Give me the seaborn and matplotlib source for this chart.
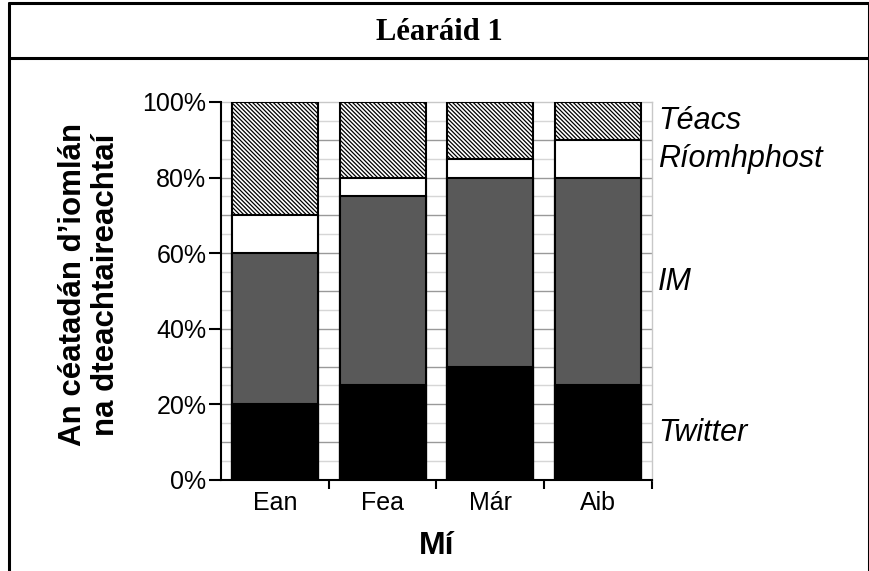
import numpy as np
import pandas as pd
import matplotlib
matplotlib.use("Agg")
import matplotlib.pyplot as plt
from matplotlib.lines import Line2D
from matplotlib.ticker import FixedLocator
import seaborn as sns

months = ["Ean", "Fea", "Már", "Aib"]
twitter = [20, 25, 30, 25]
im = [40, 50, 50, 55]
riomhphost = [10, 5, 5, 10]
teacs = [30, 20, 15, 10]
series_names = ["Twitter", "IM", "Ríomhphost", "Téacs"]
y_ticks = [0, 20, 40, 60, 80, 100]

df = pd.DataFrame({"Mí": months, "Twitter": twitter, "IM": im,
                   "Ríomhphost": riomhphost, "Téacs": teacs})
cum = df[series_names].cumsum(axis=1)
cum["Mí"] = df["Mí"]

sns.set_style("white")
plt.rcParams["font.family"] = ["Liberation Sans", "DejaVu Sans"]
plt.rcParams["hatch.linewidth"] = 0.9
plt.rcParams["hatch.color"] = "black"
for k in ["text.color", "axes.labelcolor", "xtick.color", "ytick.color"]:
    plt.rcParams[k] = "black"

fig = plt.figure(figsize=(8.7, 5.71), dpi=100)
ax = fig.add_axes([0.254, 0.1594, 0.4954, 0.662])

# stacked bars: draw cumulative totals from the top series down
styles = {
    "Téacs": dict(color="white", hatch="\\" * 8),
    "Ríomhphost": dict(color="white"),
    "IM": dict(color="#595959"),
    "Twitter": dict(color="black"),
}
for name in reversed(series_names):
    sns.barplot(data=cum, x="Mí", y=name, order=months, ax=ax,
                width=0.8, saturation=1, edgecolor="black", linewidth=1.5,
                **styles[name])

# keep later layers on top and make everything opaque
for i, p in enumerate(ax.patches):
    p.set_zorder(3 + i * 0.01)
    p.set_alpha(1)

ax.set_ylim(0, 100)
ax.set_xlim(-0.5, len(months) - 0.5)

# gridlines every 5 %, darker on the tens
for v in range(5, 100, 5):
    ax.axhline(v, color="#999999" if v % 10 == 0 else "#d6d6d6",
               lw=1.0, zorder=0)

ax.set_yticks(y_ticks)
ax.set_yticklabels([f"{v}%" for v in y_ticks], fontsize=18)
ax.tick_params(axis="y", which="major", length=8.6, width=1.5,
               direction="out", pad=2, color="black", left=True)
ax.tick_params(axis="x", which="major", length=0, pad=8, labelsize=18)
ax.xaxis.set_minor_locator(FixedLocator(np.arange(0.5, len(months), 1)))
ax.tick_params(axis="x", which="minor", length=6.5, width=1.5,
               direction="out", color="black", bottom=True)

for s in ["left", "bottom"]:
    ax.spines[s].set_color("black")
    ax.spines[s].set_linewidth(1.5)
    ax.spines[s].set_zorder(5)
for s in ["top", "right"]:
    ax.spines[s].set_color("#c8c8c8")
    ax.spines[s].set_linewidth(1.0)

ax.set_xlabel("Mí", fontsize=23, fontweight="bold")
ax.xaxis.set_label_coords(0.5, -0.135)
ax.set_ylabel("An céatadán d’iomlán\nna dteachtaireachtaí",
              fontsize=22.5, fontweight="bold", linespacing=1.15)
ax.yaxis.set_label_coords(-0.232, 0.516)

# series names beside the last bar
last = df.iloc[-1]
tops = cum.iloc[-1]
for name in series_names:
    mid = tops[name] - last[name] / 2
    ax.text(1.014, mid, name, transform=ax.get_yaxis_transform(),
            fontsize=22, fontstyle="italic", va="center", ha="left")

# frame around the figure with the title row
lw = 2.2
fig.add_artist(Line2D([0.0107, 0.0107], [0, 0.9947], color="black", lw=lw,
                      transform=fig.transFigure))
fig.add_artist(Line2D([0.9985, 0.9985], [0, 0.9947], color="black", lw=lw,
                      transform=fig.transFigure))
fig.add_artist(Line2D([0.0107, 0.9985], [0.9947, 0.9947], color="black",
                      lw=lw, transform=fig.transFigure))
fig.add_artist(Line2D([0.0107, 0.9985], [0.8984, 0.8984], color="black",
                      lw=lw, transform=fig.transFigure))
fig.text(0.505, 0.9425, "Léaráid 1", ha="center", va="center",
         fontsize=22, fontweight="bold",
         family=["Liberation Serif", "DejaVu Serif"])

fig.savefig("out.png", dpi=100)
